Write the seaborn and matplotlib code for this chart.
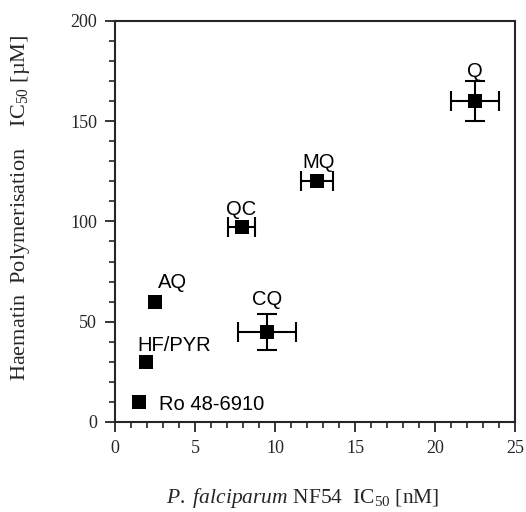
import matplotlib
matplotlib.use("Agg")
import matplotlib.pyplot as plt
from matplotlib.ticker import MultipleLocator
import pandas as pd
import seaborn as sns

# ── Data ──────────────────────────────────────────────────────────────────────
drugs   = ["Ro 48-6910", "HF/PYR", "AQ", "CQ", "QC", "MQ", "Q"]
pf_ic50 = [1.5, 1.9, 2.5, 9.5, 7.9, 12.6, 22.5]      # nM
hp_ic50 = [10, 30, 60, 45, 97, 120, 160]             # uM
pf_err  = [0, 0, 0, 1.8, 0.85, 1.0, 1.5]
hp_err  = [0, 0, 0, 9, 0, 0, 10]

# label offsets (data units)
lab_dx = [4.55, 1.8, 1.1, 0.0, 0.0, 0.1, 0.0]
lab_dy = [-1.5, 8, 9.5, 16, 9, 9.5, 15]

df = pd.DataFrame({"drug": drugs, "pf": pf_ic50, "hp": hp_ic50,
                   "pf_err": pf_err, "hp_err": hp_err})

sns.set_style("ticks")
plt.rcParams["font.family"] = ["Liberation Serif", "DejaVu Serif"]
plt.rcParams["mathtext.fontset"] = "custom"
plt.rcParams["mathtext.rm"] = "Liberation Serif"
plt.rcParams["mathtext.it"] = "Liberation Serif:italic"

fig, ax = plt.subplots(figsize=(5.26, 5.12), dpi=100)
fig.subplots_adjust(left=0.219, right=0.979, top=0.959, bottom=0.176)

# error bars
err = df[(df.pf_err > 0) | (df.hp_err > 0)]
ax.errorbar(err.pf, err.hp, xerr=err.pf_err.where(err.pf_err > 0),
            yerr=err.hp_err.where(err.hp_err > 0),
            fmt="none", ecolor="black", elinewidth=1.5, capsize=7,
            capthick=1.5, zorder=2)

sns.scatterplot(data=df, x="pf", y="hp", marker="s", s=100, color="black",
                edgecolor="black", linewidth=0, ax=ax, zorder=3)

for name, x, y, dx, dy in zip(drugs, pf_ic50, hp_ic50, lab_dx, lab_dy):
    ax.text(x + dx, y + dy, name, ha="center", va="center", fontsize=14.5,
            family="Liberation Sans", color="black")

ax.set_xlim(0, 25)
ax.set_ylim(0, 200)
ax.xaxis.set_major_locator(MultipleLocator(5))
ax.xaxis.set_minor_locator(MultipleLocator(1))
ax.yaxis.set_major_locator(MultipleLocator(50))
ax.yaxis.set_minor_locator(MultipleLocator(10))
ax.tick_params(which="major", direction="out", length=7, width=1.3,
               labelsize=13, pad=6)
ax.tick_params(which="minor", direction="out", length=4, width=1.2)
for sp in ax.spines.values():
    sp.set_linewidth(1.5)

ax.set_xlabel(r"$\it{P.\ falciparum}$ NF54  IC$_{50}$ [nM]", fontsize=15.5,
              va="center")
ax.set_ylabel(r"Haematin  Polymerisation    IC$_{50}$ [µM]", fontsize=16,
              va="center")
ax.xaxis.set_label_coords(0.47, -0.19)
ax.yaxis.set_label_coords(-0.2375, 0.535)

fig.savefig("out.png", dpi=100)
plt.close(fig)
